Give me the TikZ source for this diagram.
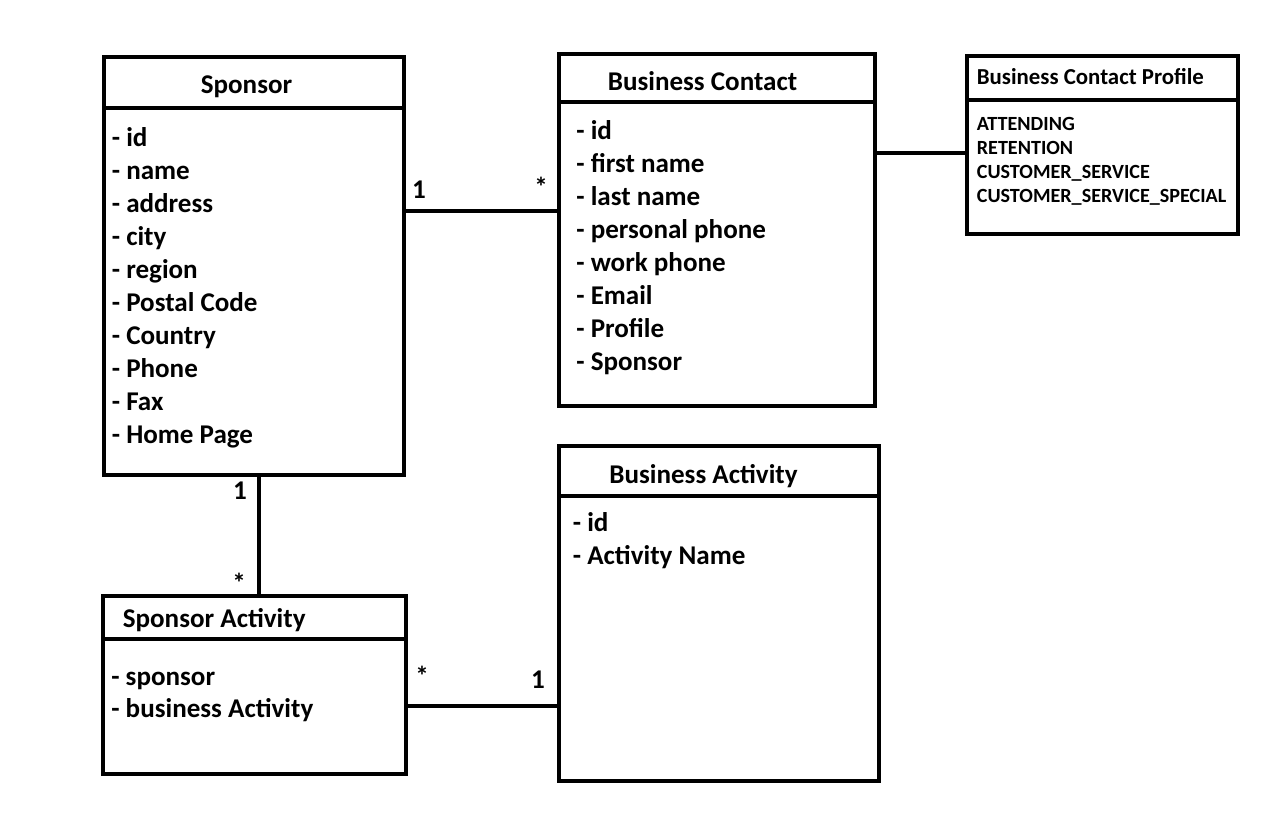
\documentclass[tikz,border=0pt]{standalone}
\usepackage{fontspec}
\setmainfont{Carlito}
\usetikzlibrary{positioning}
\definecolor{ink}{HTML}{000000}
\tikzset{
  classbox/.style={draw=ink,line width=2.3pt,anchor=north west,inner sep=0pt,outer sep=0pt},
  attr/.style={anchor=base west,inner sep=0pt},
  small/.style={font=\bfseries\fontsize{11.45}{13.6}\selectfont},
  smalltitle/.style={font=\bfseries\fontsize{13.0}{15}\selectfont},
  link/.style={draw=ink,line width=2.3pt}
}

\begin{document}
\begin{tikzpicture}[x=1cm,y=-1cm,font=\bfseries\fontsize{15.4}{18.7}\selectfont,text=ink]
  \useasboundingbox (0,0) rectangle (25.46,16.48);

  % Sponsor
  \node[classbox,minimum width=6cm,minimum height=1.02cm] (sponsor) at (2.08,1.14) {};
  \node[classbox,minimum width=6cm,minimum height=7.34cm] (sponsorbody) at (sponsor.south west) {};
  \node[anchor=base] (sponsortitle) at (4.93,1.87) {Sponsor};
  \foreach \field [count=\i] in {id,name,address,city,region,Postal Code,Country,Phone,Fax,Home Page}
    \node[attr] (sp-\i) at (2.23,{2.92+0.662*(\i-1)}) {- \field};

  % Business Contact
  \node[classbox,minimum width=6.32cm,minimum height=0.96cm] (contact) at (11.18,1.08) {};
  \node[classbox,minimum width=6.32cm,minimum height=6.08cm] (contactbody) at (contact.south west) {};
  \node[anchor=base] (contacttitle) at (14.05,1.80) {Business Contact};
  \foreach \field [count=\i] in {id,first name,last name,personal phone,work phone,Email,Profile,Sponsor}
    \node[attr] (bc-\i) at (11.52,{2.78+0.662*(\i-1)}) {- \field};

  % Business Contact Profile
  \node[classbox,minimum width=5.42cm,minimum height=0.88cm] (profile) at (19.34,1.12) {};
  \node[classbox,minimum width=5.42cm,minimum height=2.68cm] (profilebody) at (profile.south west) {};
  \node[attr,smalltitle] (profiletitle) at (19.53,1.69) {Business Contact Profile};
  \foreach \field [count=\i] in {ATTENDING,RETENTION,CUSTOMER\_SERVICE,CUSTOMER\_SERVICE\_SPECIAL}
    \node[attr,small] (pr-\i) at (19.53,{2.60+0.48*(\i-1)}) {\field};

  % Sponsor Activity
  \node[classbox,minimum width=6.06cm,minimum height=0.86cm] (spact) at (2.06,11.92) {};
  \node[classbox,minimum width=6.06cm,minimum height=2.70cm] (spactbody) at (spact.south west) {};
  \node[attr] (spacttitle) at (2.45,12.55) {Sponsor Activity};
  \foreach \field [count=\i] in {sponsor,business Activity}
    \node[attr] (sa-\i) at (2.22,{13.70+0.65*(\i-1)}) {- \field};

  % Business Activity
  \node[classbox,minimum width=6.40cm,minimum height=1.00cm] (activity) at (11.18,8.92) {};
  \node[classbox,minimum width=6.40cm,minimum height=5.70cm] (activitybody) at (activity.south west) {};
  \node[anchor=base] (activitytitle) at (14.07,9.67) {Business Activity};
  \foreach \field [count=\i] in {id,Activity Name}
    \node[attr] (ba-\i) at (11.45,{10.62+0.67*(\i-1)}) {- \field};

  % associations
  \coordinate (row1) at (0,4.22);
  \coordinate (row2) at (0,3.06);
  \coordinate (row3) at (0,14.12);
  \coordinate (col1) at (5.18,0);
  \draw[link] (sponsorbody.east |- row1) -- (contactbody.west |- row1);
  \draw[link] (contactbody.east |- row2) -- (profilebody.west |- row2);
  \draw[link] (col1 |- sponsorbody.south) -- (col1 |- spact.north);
  \draw[link] (spactbody.east |- row3) -- (activitybody.west |- row3);

  % multiplicities
  \node (m1) at (8.38,3.80) {1};
  \node (m2) at (10.82,3.74) {*};
  \node (m3) at (4.80,9.82) {1};
  \node (m4) at (4.78,11.66) {*};
  \node (m5) at (8.44,13.52) {*};
  \node (m6) at (10.76,13.60) {1};
\end{tikzpicture}
\end{document}
